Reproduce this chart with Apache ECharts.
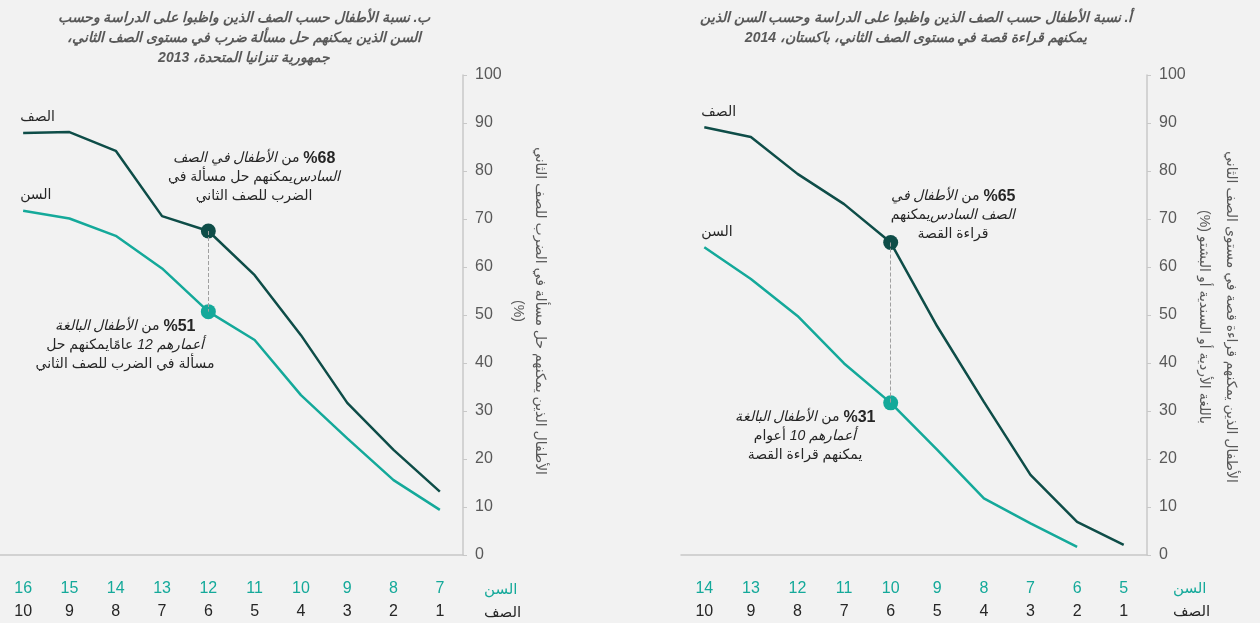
<!DOCTYPE html>
<html>
<head>
<meta charset="utf-8">
<script src="https://cdn.jsdelivr.net/npm/echarts@6/dist/echarts.min.js"></script>
<style>
html, body { margin: 0; padding: 0; background: #f2f2f2; }
#main { width: 1260px; height: 623px; }
</style>
</head>
<body>
<div id="main"></div>
<script>
// categories
var grades = ['1', '2', '3', '4', '5', '6', '7', '8', '9', '10'];
var agesA = ['5', '6', '7', '8', '9', '10', '11', '12', '13', '14'];   // باكستان
var agesB = ['7', '8', '9', '10', '11', '12', '13', '14', '15', '16']; // تنزانيا

// أ. باكستان 2014 - قراءة قصة
var gradeA = [2.1, 6.9, 16.7, 31.9, 47.6, 65.1, 73.1, 79.4, 87.1, 89.1];
var ageA = [null, 1.7, 6.6, 11.8, 21.9, 31.7, 39.9, 49.8, 57.5, 64.1];

// ب. تنزانيا 2013 - مسألة ضرب
var gradeB = [13.2, 21.9, 31.7, 45.8, 58.3, 67.5, 70.6, 84.2, 88.1, 87.9];
var ageB = [9.4, 15.6, 24.3, 33.3, 44.8, 50.7, 59.7, 66.5, 70.1, 71.7];

var FONT = "'Liberation Sans', 'DejaVu Sans', sans-serif";
var DARK = '#0e4d48';
var TEAL = '#14a99a';
var GREY = '#595959';
var AXIS = '#c8c8c8';
var HI = 5; // الصف 6 / السن 10 و 12

function rtl(s) { return '\u202B' + s + '\u202C'; }

function lineData(vals) {
    return vals.map(function (v, i) {
        var d = { value: v == null ? '-' : v };
        if (i === HI) { d.symbol = 'circle'; d.symbolSize = 15; }
        return d;
    });
}

function xAx(grid, cats, color, margin, line) {
    return {
        type: 'category', gridIndex: grid, position: 'bottom', data: cats, inverse: true,
        boundaryGap: true,
        axisLine: { show: line, lineStyle: { color: AXIS, width: 1.5 } },
        axisTick: { show: false },
        splitLine: { show: false },
        axisLabel: { color: color, fontSize: 16, fontFamily: FONT, margin: margin, interval: 0 }
    };
}

function yAx(grid) {
    return {
        type: 'value', gridIndex: grid, position: 'right', min: 0, max: 100, interval: 10,
        axisLine: { show: true, lineStyle: { color: AXIS, width: 1.5 } },
        axisTick: { show: true, length: 4, lineStyle: { color: AXIS } },
        axisLabel: { color: GREY, fontSize: 16, fontFamily: FONT, margin: 12 },
        splitLine: { show: false }
    };
}

function series(xi, yi, vals, name, color, other) {
    var last = vals.length - 1;
    var s = {
        type: 'line', xAxisIndex: xi, yAxisIndex: yi, data: lineData(vals),
        symbol: 'none', showSymbol: true, showAllSymbol: true,
        lineStyle: { color: color, width: 2.5 }, itemStyle: { color: color },
        silent: true, z: other ? 2 : 3,
        markPoint: {
            silent: true, animation: false,
            data: [{
                coord: [last, vals[last]], symbol: 'circle', symbolSize: 1,
                itemStyle: { color: 'rgba(0,0,0,0)' },
                label: {
                    show: true, position: 'top', align: 'left', offset: [-3, -3],
                    formatter: rtl(name), color: '#262626', fontSize: 14, fontFamily: FONT
                }
            }]
        }
    };
    if (other) {
        s.markLine = {
            silent: true, symbol: 'none', label: { show: false }, animation: false,
            lineStyle: { color: '#a0a0a0', type: 'dashed', width: 1 },
            data: [[{ coord: [HI, vals[HI]] }, { coord: [HI, other[HI]] }]]
        };
    }
    return s;
}

function titleText(x, y, lines) {
    return {
        type: 'text', x: x, y: y,
        style: {
            text: lines.map(rtl).join('\n'), align: 'center', verticalAlign: 'top',
            fontFamily: FONT, fontSize: 14, fontWeight: 'bold', fontStyle: 'italic',
            lineHeight: 20, fill: GREY
        }
    };
}

function yName(x, y, lines, lh) {
    return {
        type: 'text', x: x, y: y, rotation: -Math.PI / 2,
        style: {
            text: lines.map(rtl).join('\n'), align: 'center', verticalAlign: 'middle',
            fontFamily: FONT, fontSize: 14, lineHeight: lh, fill: GREY
        }
    };
}

var richStyle = {
    b: { fontWeight: 'bold', fontSize: 16, fontFamily: FONT, fill: '#262626' },
    i: { fontStyle: 'italic', fontSize: 14, fontFamily: FONT, fill: '#262626' },
    n: { fontSize: 14, fontFamily: FONT, fill: '#262626' }
};

function note(x, y, text) {
    return {
        type: 'text', x: x, y: y,
        style: {
            text: text, rich: richStyle, align: 'center', verticalAlign: 'top',
            fontFamily: FONT, fontSize: 14, lineHeight: 19, fill: '#262626'
        }
    };
}

function rowName(x, y, text, color) {
    return {
        type: 'text', x: x, y: y,
        style: { text: rtl(text), align: 'left', verticalAlign: 'middle', fontFamily: FONT, fontSize: 15, fill: color }
    };
}

var chart = echarts.init(document.getElementById('main'));
chart.setOption({
    backgroundColor: '#f2f2f2',
    animation: false,
    grid: [
        { left: 681, top: 75, width: 466, height: 480 },
        { left: 0, top: 75, width: 463, height: 480 }
    ],
    xAxis: [
        xAx(0, grades, '#262626', 49, true),
        xAx(0, agesA, TEAL, 26, false),
        xAx(1, grades, '#262626', 49, true),
        xAx(1, agesB, TEAL, 26, false)
    ],
    yAxis: [yAx(0), yAx(1)],
    series: [
        series(0, 0, gradeA, 'الصف', DARK, ageA),
        series(1, 0, ageA, 'السن', TEAL),
        series(2, 1, gradeB, 'الصف', DARK, ageB),
        series(3, 1, ageB, 'السن', TEAL)
    ],
    graphic: [
        titleText(916, 8, [
            'أ. نسبة الأطفال حسب الصف الذين واظبوا على الدراسة وحسب السن الذين',
            'يمكنهم قراءة قصة في مستوى الصف الثاني، باكستان، 2014'
        ]),
        titleText(244, 8, [
            'ب. نسبة الأطفال حسب الصف الذين واظبوا على الدراسة وحسب',
            'السن الذين يمكنهم حل مسألة ضرب في مستوى الصف الثاني،',
            'جمهورية تنزانيا المتحدة، 2013'
        ]),
        yName(1217, 317, [
            'الأطفال الذين يمكنهم قراءة قصة في مستوى الصف الثاني',
            'باللغة الأردية أو السندية أو البشتو (%)'
        ], 27),
        yName(529, 311, [
            'الأطفال الذين يمكنهم حل مسألة في الضرب للصف الثاني',
            '(%)'
        ], 22),
        note(953, 187, '{i|الأطفال في} {n|من} {b|%65}\n{n|يمكنهم}{i|الصف السادس}\n{n|قراءة القصة}'),
        note(805, 408, '{i|الأطفال البالغة} {n|من} {b|%31}\n{n|أعوام} {i|أعمارهم 10}\n{n|يمكنهم قراءة القصة}'),
        note(254, 149, '{i|الأطفال في الصف} {n|من} {b|%68}\n{n|يمكنهم حل مسألة في}{i|السادس}\n{n|الضرب للصف الثاني}'),
        note(125, 317, '{i|الأطفال البالغة} {n|من} {b|%51}\n{n|عامًايمكنهم حل} {i|أعمارهم 12}\n{n|مسألة في الضرب للصف الثاني}'),
        rowName(1173, 589, 'السن', TEAL),
        rowName(1173, 612, 'الصف', '#262626'),
        rowName(484, 590, 'السن', TEAL),
        rowName(484, 613, 'الصف', '#262626')
    ]
});
</script>
</body>
</html>
